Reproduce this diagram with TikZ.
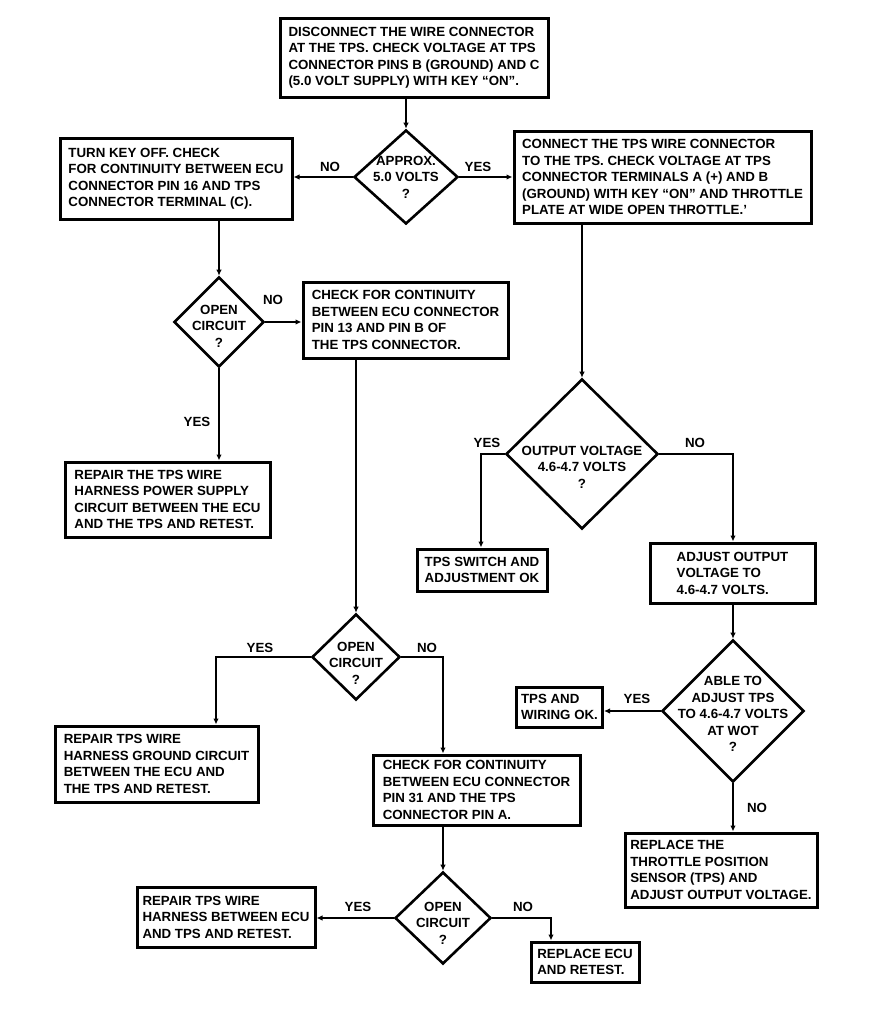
\documentclass[tikz,border=0pt]{standalone}
\usepackage{fontspec}
\setmainfont{Liberation Sans}
\usetikzlibrary{shapes.geometric,arrows.meta}
\newcommand\ff{\fontsize{13.3}{16.5}\selectfont\bfseries}
\tikzset{
  box/.style={draw, line width=3pt, align=left, inner sep=0pt, font=\ff},
  dia/.style={draw, diamond, line width=2.6pt, inner sep=0pt},
  txt/.style={font=\ff, align=center, inner sep=0pt},
  lab/.style={font=\ff, inner sep=0pt},
  conn/.style={line width=2.1pt, -{Latex[length=6pt,width=5.5pt]}}
}
\begin{document}
\begin{tikzpicture}[x=1pt,y=-1pt]
\useasboundingbox (0,0) rectangle (890,1012);
% boxes
\node[box, minimum width=268pt, minimum height=79pt] (top) at (414,57.5)
 {DISCONNECT THE WIRE CONNECTOR\\AT THE TPS. CHECK VOLTAGE AT TPS\\CONNECTOR PINS B (GROUND) AND C\\(5.0 VOLT SUPPLY) WITH KEY ``ON''.};
\node[box, minimum width=232pt, minimum height=81pt] (l1) at (176,178.5)
 {TURN KEY OFF. CHECK\\FOR CONTINUITY BETWEEN ECU\\CONNECTOR PIN 16 AND TPS\\CONNECTOR TERMINAL (C).};
\node[box, minimum width=297pt, minimum height=92pt] (r1) at (662.5,177)
 {CONNECT THE TPS WIRE CONNECTOR\\TO THE TPS. CHECK VOLTAGE AT TPS\\CONNECTOR TERMINALS A (+) AND B\\(GROUND) WITH KEY ``ON'' AND THROTTLE\\PLATE AT WIDE OPEN THROTTLE.'};
\node[box, minimum width=205pt, minimum height=76pt] (c13) at (405.5,320)
 {CHECK FOR CONTINUITY\\BETWEEN ECU CONNECTOR\\PIN 13 AND PIN B OF\\THE TPS CONNECTOR.};
\node[box, minimum width=205pt, minimum height=75pt] (rp1) at (167.5,499.5)
 {REPAIR THE TPS WIRE\\HARNESS POWER SUPPLY\\CIRCUIT BETWEEN THE ECU\\AND THE TPS AND RETEST.};
\node[box, minimum width=203pt, minimum height=76pt] (rp2) at (156.5,764)
 {REPAIR TPS WIRE\\HARNESS GROUND CIRCUIT\\BETWEEN THE ECU AND\\THE TPS AND RETEST.};
\node[box, minimum width=207pt, minimum height=70pt] (c31) at (476.5,790)
 {CHECK FOR CONTINUITY\\BETWEEN ECU CONNECTOR\\PIN 31 AND THE TPS\\CONNECTOR PIN A.};
\node[box, minimum width=178pt, minimum height=60pt] (rp3) at (226,917)
 {REPAIR TPS WIRE\\HARNESS BETWEEN ECU\\AND TPS AND RETEST.};
\node[box, minimum width=108pt, minimum height=40pt] (recu) at (585,962)
 {REPLACE ECU\\AND RETEST.};
\node[box, minimum width=130pt, minimum height=42pt] (tok) at (482,570)
 {TPS SWITCH AND\\ADJUSTMENT OK};
\node[box, minimum width=165pt, minimum height=60pt] (adj) at (732.5,573)
 {ADJUST OUTPUT\\VOLTAGE TO\\4.6-4.7 VOLTS.};
\node[box, minimum width=86pt, minimum height=40pt] (twok) at (559.5,707)
 {TPS AND\\WIRING OK.};
\node[box, minimum width=192pt, minimum height=74pt] (rtps) at (721,870)
 {REPLACE THE\\THROTTLE POSITION\\SENSOR (TPS) AND\\ADJUST OUTPUT VOLTAGE.};
% diamonds
\node[dia, minimum width=104pt, minimum height=94pt] (d1) at (406,177) {};
\node[txt] (d1t) at (d1.center) {APPROX.\\5.0 VOLTS\\?};
\node[dia, minimum width=90pt, minimum height=90pt] (d2) at (219,322) {};
\node[txt, yshift=-4pt] (d2t) at (d2.center) {OPEN\\CIRCUIT\\?};
\node[dia, minimum width=88pt, minimum height=86pt] (d3) at (356,657) {};
\node[txt, yshift=-6pt] (d3t) at (d3.center) {OPEN\\CIRCUIT\\?};
\node[dia, minimum width=96pt, minimum height=92pt] (d4) at (443,918) {};
\node[txt, yshift=-5pt] (d4t) at (d4.center) {OPEN\\CIRCUIT\\?};
\node[dia, minimum width=152pt, minimum height=150pt] (d5) at (582,454) {};
\node[txt, yshift=-13pt] (d5t) at (d5.center) {OUTPUT VOLTAGE\\4.6-4.7 VOLTS\\?};
\node[dia, minimum width=142pt, minimum height=142pt] (d6) at (733,711) {};
\node[txt, yshift=-3pt] (d6t) at (d6.center) {ABLE TO\\ADJUST TPS\\TO 4.6-4.7 VOLTS\\AT WOT\\?};
% labels
\node[lab] (n1) at (330,167) {NO};
\node[lab] (y1) at (478,167) {YES};
\node[lab] (n2) at (273,300) {NO};
\node[lab] (y2) at (197,422) {YES};
\node[lab] (y3) at (260,648) {YES};
\node[lab] (n3) at (427,648) {NO};
\node[lab] (y4) at (358,907) {YES};
\node[lab] (n4) at (523,907) {NO};
\node[lab] (y5) at (487,443) {YES};
\node[lab] (n5) at (695,443) {NO};
\node[lab] (y6) at (637,699) {YES};
\node[lab] (n6) at (757,808) {NO};
% bend points
\coordinate (k3l) at (216,657);
\coordinate (k3r) at (443,657);
\coordinate (k4r) at (551,918);
\coordinate (k5l) at (481,454);
\coordinate (k5r) at (733,454);
% connectors
\draw[conn] (top.south -| d1.north) -- (d1.north);
\draw[conn] (d1.west) -- (d1.west -| l1.east);
\draw[conn] (d1.east) -- (d1.east -| r1.west);
\draw[conn] (l1.south -| d2.north) -- (d2.north);
\draw[conn] (d2.east) -- (d2.east -| c13.west);
\draw[conn] (d2.south) -- (d2.south |- rp1.north);
\draw[conn] (c13.south -| d3.north) -- (d3.north);
\draw[conn] (d3.west) -- (k3l) -- (k3l |- rp2.north);
\draw[conn] (d3.east) -- (k3r) -- (k3r |- c31.north);
\draw[conn] (c31.south -| d4.north) -- (d4.north);
\draw[conn] (d4.west) -- (d4.west -| rp3.east);
\draw[conn] (d4.east) -- (k4r) -- (k4r |- recu.north);
\draw[conn] (r1.south -| d5.north) -- (d5.north);
\draw[conn] (d5.west) -- (k5l) -- (k5l |- tok.north);
\draw[conn] (d5.east) -- (k5r) -- (k5r |- adj.north);
\draw[conn] (adj.south -| d6.north) -- (d6.north);
\draw[conn] (d6.west) -- (d6.west -| twok.east);
\draw[conn] (d6.south) -- (d6.south |- rtps.north);
\end{tikzpicture}
\end{document}
